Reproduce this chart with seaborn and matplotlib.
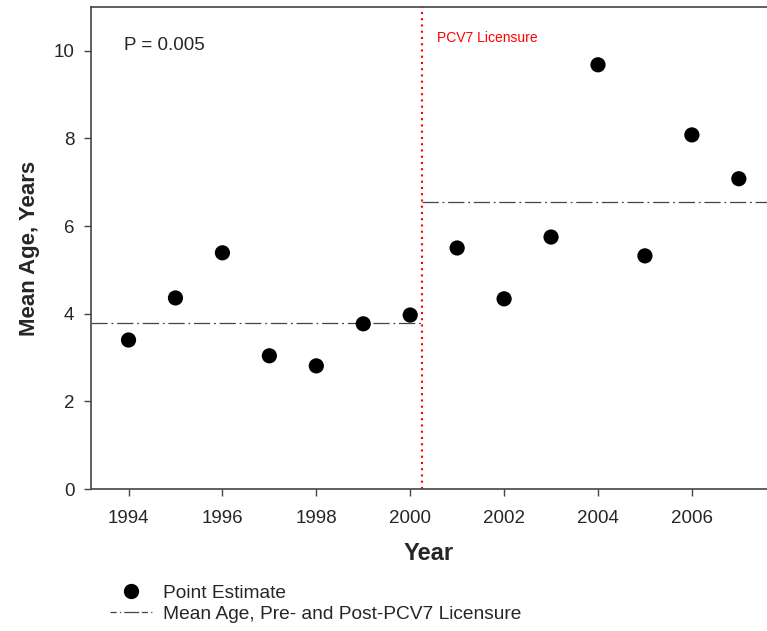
import matplotlib
matplotlib.use("Agg")
import matplotlib.pyplot as plt
from matplotlib.lines import Line2D
import pandas as pd
import seaborn as sns

# values
years = [1994, 1995, 1996, 1997, 1998, 1999, 2000,
         2001, 2002, 2003, 2004, 2005, 2006, 2007]
mean_age = [3.40, 4.36, 5.39, 3.04, 2.81, 3.77, 3.97,
            5.50, 4.34, 5.75, 9.68, 5.32, 8.08, 7.08]

licensure = 2000.25
period_start = [1993.2, 2000.25]
period_end = [2000.25, 2007.6]
period_mean = [3.78, 6.56]

df = pd.DataFrame({"year": years, "age": mean_age})

sns.set_theme(style="ticks")
plt.rcParams["font.family"] = ["Liberation Sans", "DejaVu Sans"]

fig = plt.figure(figsize=(7.67, 6.31), dpi=100)
ax = fig.add_axes([0.1186, 0.225, 0.8814, 0.764])

sns.scatterplot(data=df, x="year", y="age", color="black", s=120,
                edgecolor="none", ax=ax, zorder=3)

ax.hlines(period_mean, period_start, period_end, colors="#444444",
          linewidth=0.9, linestyles=[(0, (13, 3, 1.5, 3))])
ax.axvline(licensure, color="red", linestyle=(0, (1, 2)), linewidth=1.5)

ax.text(licensure + 0.32, 10.28, "PCV7 Licensure", color="red", fontsize=10,
        va="center")
ax.text(1993.9, 10.12, "P = 0.005", fontsize=13.5, va="center")

ax.set_xlim(1993.2, 2007.6)
ax.set_ylim(0, 11)
ax.set_xticks(range(1994, 2007, 2))
ax.set_yticks(range(0, 11, 2))
ax.tick_params(direction="out", length=5, width=1, labelsize=13.5,
               color="#444444")
ax.tick_params(axis="x", pad=10)
ax.tick_params(axis="y", pad=7)
for side in ["left", "bottom", "top"]:
    ax.spines[side].set_color("#444444")
    ax.spines[side].set_linewidth(1.2)
ax.spines["right"].set_visible(False)

ax.set_xlabel("Year", fontsize=17, fontweight="bold", labelpad=11)
ax.set_ylabel("Mean Age, Years", fontsize=16, fontweight="bold", labelpad=10)

handles = [
    Line2D([], [], marker="o", color="black", linestyle="none", markersize=10),
    Line2D([], [], color="#444444", linewidth=0.9,
           linestyle=(0, (5, 2.5, 1, 2.5, 12, 2))),
]
fig.legend(handles, ["Point Estimate", "Mean Age, Pre- and Post-PCV7 Licensure"],
           loc="upper left", bbox_to_anchor=(0.143, 0.074), frameon=False,
           fontsize=13.8, handlelength=2.2, handletextpad=0.6, labelspacing=0.2,
           borderaxespad=0, borderpad=0)

fig.savefig("out.png", dpi=100)
